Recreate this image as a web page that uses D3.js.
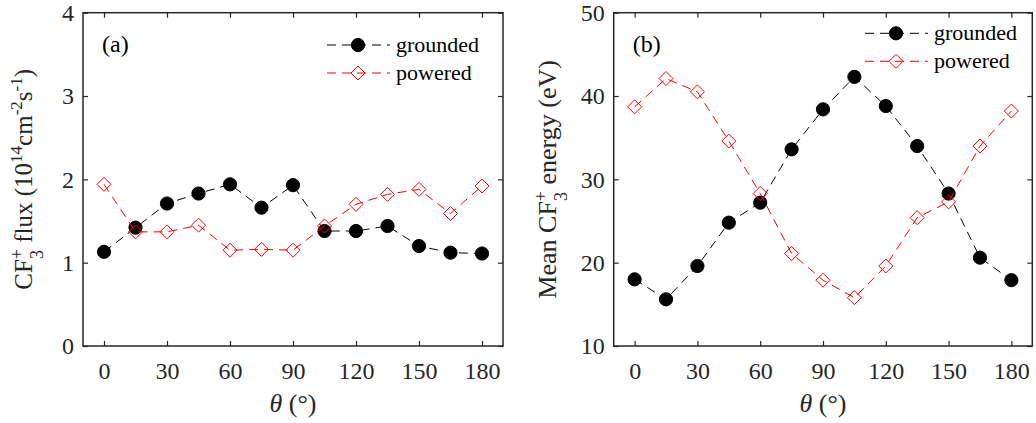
<!DOCTYPE html>
<html>
<head>
<meta charset="utf-8">
<script src="https://cdn.jsdelivr.net/npm/d3@7"></script>
<style>
  html, body { margin: 0; padding: 0; background: #fff; }
  svg { display: block; font-family: "Liberation Serif", "Times New Roman", serif; }
</style>
</head>
<body>
<div id="chart"></div>
<script>
// angle of incidence (deg)
const theta = [0, 15, 30, 45, 60, 75, 90, 105, 120, 135, 150, 165, 180];
// (a) CF3+ flux, 1e14 cm^-2 s^-1
const fluxGrounded = [1.13, 1.42, 1.71, 1.83, 1.94, 1.66, 1.93, 1.38, 1.38, 1.44, 1.20, 1.12, 1.11];
const fluxPowered  = [1.94, 1.37, 1.37, 1.45, 1.15, 1.16, 1.15, 1.44, 1.70, 1.82, 1.88, 1.59, 1.92];
// (b) mean CF3+ energy, eV
const energyGrounded = [18.0, 15.6, 19.6, 24.8, 27.2, 33.6, 38.4, 42.3, 38.8, 34.0, 28.3, 20.6, 17.9];
const energyPowered  = [38.7, 42.1, 40.5, 34.6, 28.3, 21.1, 17.9, 15.8, 19.6, 25.4, 27.3, 34.0, 38.2];

const xTicks = [0, 30, 60, 90, 120, 150, 180];
const fluxTicks = [0, 1, 2, 3, 4];
const energyTicks = [10, 20, 30, 40, 50];
const seriesNames = ['grounded', 'powered'];

const W = 1036, H = 423;
const TOP = 12.7, BOTTOM = 346;
const AX = '#262626';
const DASH = '9,6';
const FONT = '"Liberation Serif", "Times New Roman", serif';

const svg = d3.select('#chart').append('svg').attr('width', W).attr('height', H);

const diamond = 'M0,-7L7,0L0,7L-7,0Z';

function marker(sel, kind) {
  if (kind === 'circle') {
    sel.append('circle').attr('r', 6.6).attr('fill', '#000').attr('stroke', '#000');
  } else {
    sel.append('path').attr('d', diamond).attr('fill', 'none').attr('stroke', '#ff0000').attr('stroke-width', 1);
  }
}

function drawPanel(p) {
  const x = d3.scaleLinear().domain([-10, 190]).range([p.left, p.right]);
  const y = d3.scaleLinear().domain(p.yDomain).range([BOTTOM, TOP]);
  const g = svg.append('g');
  const fmt = d3.format('d');

  const styleAxis = a => a.attr('font-family', FONT).attr('font-size', 24)
    .call(s => s.select('.domain').remove())
    .call(s => s.selectAll('.tick line').attr('stroke', AX).attr('stroke-width', 1.2))
    .call(s => s.selectAll('text').attr('fill', AX));

  g.append('g').attr('transform', `translate(0,${BOTTOM})`)
    .call(d3.axisBottom(x).tickValues(xTicks).tickFormat(fmt).tickSizeInner(-5).tickSizeOuter(0).tickPadding(16))
    .call(styleAxis);
  g.append('g').attr('transform', `translate(0,${TOP})`)
    .call(d3.axisTop(x).tickValues(xTicks).tickSizeInner(-5).tickSizeOuter(0).tickFormat(''))
    .call(styleAxis);
  g.append('g').attr('transform', `translate(${p.left},0)`)
    .call(d3.axisLeft(y).tickValues(p.yTicks).tickFormat(fmt).tickSizeInner(-5).tickSizeOuter(0).tickPadding(9))
    .call(styleAxis);
  g.append('g').attr('transform', `translate(${p.right},0)`)
    .call(d3.axisRight(y).tickValues(p.yTicks).tickSizeInner(-5).tickSizeOuter(0).tickFormat(''))
    .call(styleAxis);

  g.append('rect')
    .attr('x', p.left).attr('y', TOP)
    .attr('width', p.right - p.left).attr('height', BOTTOM - TOP)
    .attr('fill', 'none').attr('stroke', AX).attr('stroke-width', 1.5);

  const line = d3.line().x((d, i) => x(theta[i])).y(d => y(d));

  p.series.forEach(s => {
    g.append('path').datum(s.values)
      .attr('d', line)
      .attr('fill', 'none')
      .attr('stroke', s.color)
      .attr('stroke-width', 1)
      .attr('stroke-dasharray', DASH);
    g.append('g').selectAll('g')
      .data(s.values)
      .join('g')
      .attr('transform', (d, i) => `translate(${x(theta[i])},${y(d)})`)
      .each(function () { marker(d3.select(this), s.kind); });
  });

  // panel tag
  g.append('text').attr('x', x(-10) + 19).attr('y', 52)
    .attr('fill', '#000').style('font-size', '24px').text(p.tag);

  // legend
  p.series.forEach((s, i) => {
    const ly = p.legendY + i * 28;
    const lg = g.append('g').attr('transform', `translate(${p.legendX},${ly})`);
    lg.append('line').attr('x1', 0).attr('x2', 63).attr('y1', 0).attr('y2', 0)
      .attr('stroke', s.color).attr('stroke-width', 1).attr('stroke-dasharray', DASH);
    const m = lg.append('g').attr('transform', 'translate(31,0)');
    marker(m, s.kind);
    lg.append('text').attr('x', 69).attr('y', 7).attr('fill', '#000')
      .style('font-size', '22px').text(s.name);
  });

  // x label
  const xl = g.append('text')
    .attr('x', (p.left + p.right) / 2).attr('y', 412)
    .attr('text-anchor', 'middle').attr('fill', AX).style('font-size', '26px');
  xl.append('tspan').style('font-style', 'italic').text('θ');
  xl.append('tspan').text(' (°)');

  // y label
  const yl = g.append('text')
    .attr('transform', `translate(${p.labelX},${(TOP + BOTTOM) / 2}) rotate(-90)`)
    .attr('text-anchor', 'middle').attr('fill', AX).style('font-size', p.labelSize + 'px');
  p.yLabel(yl);
}

function cf3(t, prefix) {
  t.append('tspan').text(prefix + 'CF');
  t.append('tspan').attr('dy', -9).style('font-size', '18px').text('+');
  t.append('tspan').attr('dx', -10).attr('dy', 20).style('font-size', '18px').text('3');
  t.append('tspan').attr('dx', 1).attr('dy', -11).text(' ');
}

drawPanel({
  left: 83, right: 503,
  yDomain: [0, 4], yTicks: fluxTicks,
  tag: '(a)', legendX: 327, legendY: 45, labelX: 32, labelSize: 25,
  series: [
    { name: seriesNames[0], values: fluxGrounded, color: '#000', kind: 'circle' },
    { name: seriesNames[1], values: fluxPowered, color: '#ff0000', kind: 'diamond' }
  ],
  yLabel: t => {
    cf3(t, '');
    t.append('tspan').text('flux (10');
    t.append('tspan').attr('dy', -10).style('font-size', '17px').text('14');
    t.append('tspan').attr('dy', 10).text('cm');
    t.append('tspan').attr('dy', -10).style('font-size', '17px').text('-2');
    t.append('tspan').attr('dy', 10).text('s');
    t.append('tspan').attr('dy', -10).style('font-size', '17px').text('-1');
    t.append('tspan').attr('dy', 10).text(')');
  }
});

drawPanel({
  left: 613.7, right: 1032.3,
  yDomain: [10, 50], yTicks: energyTicks,
  tag: '(b)', legendX: 865, legendY: 33.3, labelX: 556, labelSize: 26,
  series: [
    { name: seriesNames[0], values: energyGrounded, color: '#000', kind: 'circle' },
    { name: seriesNames[1], values: energyPowered, color: '#ff0000', kind: 'diamond' }
  ],
  yLabel: t => {
    cf3(t, 'Mean ');
    t.append('tspan').text('energy (eV)');
  }
});
</script>
</body>
</html>
